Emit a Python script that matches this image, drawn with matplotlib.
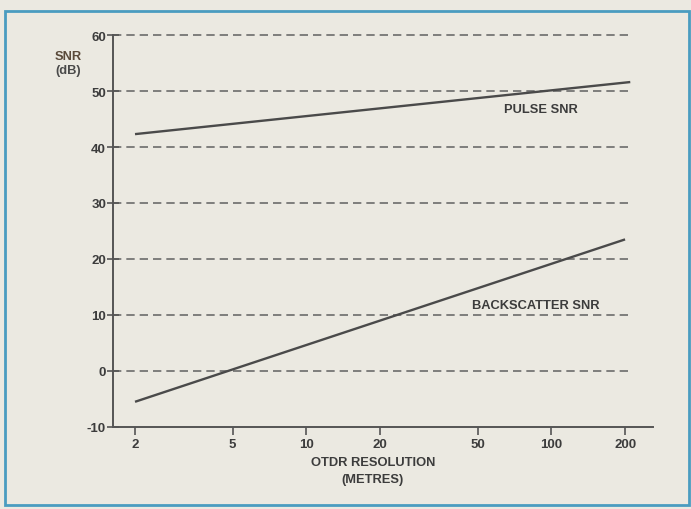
import numpy as np
import matplotlib.pyplot as plt
import matplotlib.patches as mpatches

# values
resolution_ticks = [2, 5, 10, 20, 50, 100, 200]
snr_ticks = [-10, 0, 10, 20, 30, 40, 50, 60]
grid_levels = [0, 10, 20, 30, 40, 50, 60]

pulse_res = [2, 210]
pulse_snr = [42.3, 51.6]
back_res = [2, 200]
back_snr = [-5.5, 23.5]

ink = '#4a4a4a'
paper = '#ebe9e1'

plt.rcParams['font.family'] = ['Liberation Sans', 'DejaVu Sans']

fig = plt.figure(figsize=(6.91, 5.10), dpi=100, facecolor=paper)
ax = fig.add_axes([0.1635, 0.1608, 0.7815, 0.7686])
ax.set_facecolor(paper)

ax.set_xscale('log')
ax.set_xlim(1.626, 260)
ax.set_ylim(-10, 60)

# dashed reference lines
ax.hlines(grid_levels, 1.626, 216, colors='#6b6b6b', linestyles=(0, (5, 3)),
          linewidth=1.2, zorder=1, clip_on=False)

ax.plot(pulse_res, pulse_snr, color=ink, linewidth=1.7, solid_capstyle='butt', zorder=3)
ax.plot(back_res, back_snr, color=ink, linewidth=1.7, solid_capstyle='butt', zorder=3)

ax.text(91, 46.8, 'PULSE SNR', fontsize=9.3, fontweight='bold', color='#3c3c3c', ha='center', va='center')
ax.text(86, 11.8, 'BACKSCATTER SNR', fontsize=9.3, fontweight='bold', color='#3c3c3c', ha='center', va='center')

for s in ['top', 'right']:
    ax.spines[s].set_visible(False)
for s in ['left', 'bottom']:
    ax.spines[s].set_color('#555555')
    ax.spines[s].set_linewidth(1.4)

ax.set_xticks(resolution_ticks)
ax.set_xticklabels([str(t) for t in resolution_ticks])
ax.xaxis.set_minor_locator(plt.NullLocator())
ax.set_yticks(snr_ticks)
ax.set_yticklabels([str(t) for t in snr_ticks])
ax.tick_params(axis='x', direction='out', length=6, width=1.2, color='#555555',
               labelsize=9.5, labelcolor='#3c3c3c', pad=2)
ax.tick_params(axis='y', direction='inout', length=8, width=1.2, color='#555555',
               labelsize=9.5, labelcolor='#3c3c3c', pad=1)
for lbl in ax.get_xticklabels() + ax.get_yticklabels():
    lbl.set_fontweight('bold')

fig.text(373 / 691, 1 - 463 / 510, 'OTDR RESOLUTION', fontsize=9.3, fontweight='bold',
         color='#3c3c3c', ha='center', va='center')
fig.text(373 / 691, 1 - 480 / 510, '(METRES)', fontsize=9.3, fontweight='bold',
         color='#3c3c3c', ha='center', va='center')
fig.text(68 / 691, 1 - 57 / 510, 'SNR', fontsize=9.3, fontweight='bold',
         color='#5a4a3a', ha='center', va='center')
fig.text(68 / 691, 1 - 71 / 510, '(dB)', fontsize=9.3, fontweight='bold',
         color='#4a4a4a', ha='center', va='center')

# blue frame of the scanned box
frame = mpatches.Rectangle((5 / 691, 4 / 510), 684 / 691, 494 / 510, transform=fig.transFigure,
                           fill=False, edgecolor='#4a9cc0', linewidth=2.0)
fig.patches.append(frame)

fig.savefig('out.png', dpi=100, facecolor=paper)
